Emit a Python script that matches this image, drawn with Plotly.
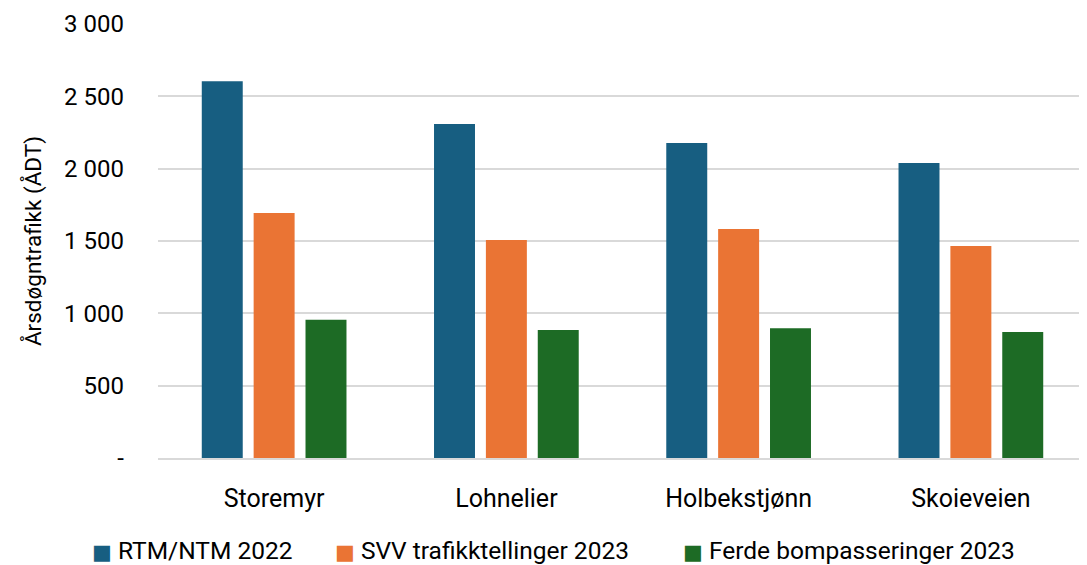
import plotly.graph_objects as go

categories = ["Storemyr", "Lohnelier", "Holbekstjønn", "Skoieveien"]
rtm_2022 = [2605, 2308, 2177, 2039]
svv_2023 = [1693, 1507, 1583, 1465]
ferde_2023 = [955, 885, 897, 871]
series_names = ["RTM/NTM 2022", "SVV trafikktellinger 2023", "Ferde bompasseringer 2023"]
colors = ["#175E81", "#EA7434", "#1D6B25"]
ytick_vals = [0, 500, 1000, 1500, 2000, 2500, 3000]
ytick_text = ["-", "500", "1 000", "1 500", "2 000", "2 500", "3 000"]
legend_x = [-0.0732, 0.1884, 0.563]

font_family = "Roboto, Arial, sans-serif"

fig = go.Figure()
for name, vals, col in zip(series_names, [rtm_2022, svv_2023, ferde_2023], colors):
    fig.add_trace(go.Bar(x=categories, y=vals, name=name, marker_color=col,
                         marker_line_width=0))

# legend drawn as text entries below the chart (one per series)
for name, col, lx in zip(series_names, colors, legend_x):
    fig.add_annotation(
        text=f"<span style='color:{col};font-family:DejaVu Sans;font-size:21px'>■</span> {name}",
        xref="paper", yref="paper", x=lx, y=-0.214, xanchor="left", yanchor="middle",
        showarrow=False, font=dict(size=24.5, color="#000000", family=font_family))

# page body has an 8px default margin, so the figure is 8px smaller
fig.update_layout(
    width=1079, height=557,
    margin=dict(l=150, r=0, t=16, b=107, autoexpand=False),
    paper_bgcolor="white", plot_bgcolor="white",
    barmode="group", bargap=0.33, bargroupgap=0.21,
    font=dict(family=font_family, color="#000000", size=22),
    showlegend=False,
)
fig.update_yaxes(range=[0, 3000], tickvals=ytick_vals, ticktext=ytick_text,
                 showgrid=True, gridcolor="#D9D9D9", gridwidth=2,
                 zeroline=False, showline=False, ticks="",
                 ticklabelstandoff=33, tickfont=dict(size=24),
                 title=dict(text="Årsdøgntrafikk (ÅDT)", font=dict(size=22.5), standoff=16))
fig.update_xaxes(showline=True, linecolor="#D9D9D9", linewidth=2, ticks="",
                 tickfont=dict(size=25), ticklabelstandoff=17, tickangle=0)

fig.write_html("out.html")
